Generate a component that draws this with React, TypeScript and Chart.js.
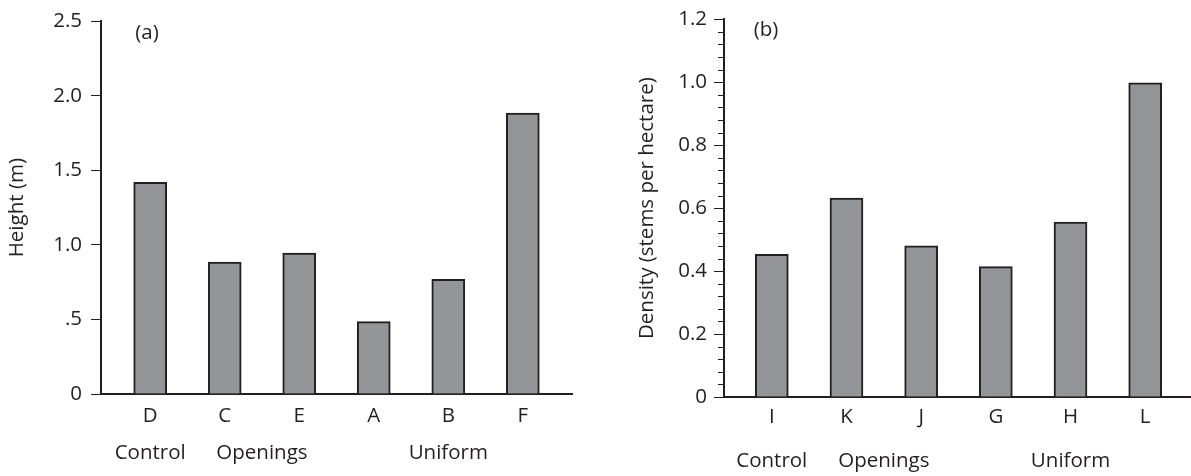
import React, { useEffect, useRef } from 'react';
import { Chart, registerables } from 'chart.js';

Chart.register(...registerables);

// ---------- data ----------
const heightCategories = ['D', 'C', 'E', 'A', 'B', 'F'];
const heightValues = [1.42, 0.885, 0.945, 0.485, 0.77, 1.885];
const heightTickValues = [0, 0.5, 1, 1.5, 2, 2.5];
const heightTickLabels = ['0', '.5', '1.0', '1.5', '2.0', '2.5'];
const heightGroups = ['Control', 'Openings', 'Uniform'];
const heightGroupMembers = [['D'], ['C', 'E'], ['A', 'B', 'F']];

const densityCategories = ['I', 'K', 'J', 'G', 'H', 'L'];
const densityValues = [0.453, 0.632, 0.48, 0.414, 0.556, 0.998];
const densityTickValues = [0, 0.2, 0.4, 0.6, 0.8, 1.0, 1.2];
const densityTickLabels = ['0', '0.2', '0.4', '0.6', '0.8', '1.0', '1.2'];
const densityMinorStep = 0.04;
const densityGroups = ['Control', 'Openings', 'Uniform'];
const densityGroupMembers = [['I'], ['K', 'J'], ['G', 'H', 'L']];

// ---------- style ----------
const INK = '#231f20';
const BAR_FILL = '#939598';
const FONT = "'Open Sans', 'Noto Sans', sans-serif";
const FONT_SIZE = 20.5;

Chart.defaults.font.family = FONT;
Chart.defaults.font.size = FONT_SIZE;
Chart.defaults.color = INK;

const extrasPlugin = {
  id: 'extras',
  afterDraw(chart: any, _args: any, opts: any) {
    const { ctx, chartArea, scales } = chart;
    const xs = scales.x;
    const ys = scales.y;
    ctx.save();
    // minor ticks
    if (opts.minorStep) {
      ctx.strokeStyle = INK;
      ctx.lineWidth = 1;
      const n = Math.round((ys.max - ys.min) / opts.minorStep);
      for (let i = 0; i <= n; i++) {
        const v = ys.min + i * opts.minorStep;
        if (opts.majors.some((m: number) => Math.abs(m - v) < 1e-6)) continue;
        const py = Math.round(ys.getPixelForValue(v)) + 0.5;
        ctx.beginPath();
        ctx.moveTo(chartArea.left - opts.minorLength, py);
        ctx.lineTo(chartArea.left, py);
        ctx.stroke();
      }
    }
    ctx.fillStyle = INK;
    ctx.font = `${FONT_SIZE}px ${FONT}`;
    ctx.textAlign = 'center';
    ctx.textBaseline = 'middle';
    // panel label
    ctx.fillText(opts.panel, chartArea.left + opts.panelDx, opts.panelY);
    // group labels
    opts.groups.forEach((g: string, gi: number) => {
      const idx = opts.members[gi].map((c: string) => opts.categories.indexOf(c));
      const px = idx.reduce((s: number, i: number) => s + xs.getPixelForValue(i), 0) / idx.length;
      ctx.fillText(g, px, opts.groupY);
    });
    ctx.restore();
  },
};

type PanelProps = {
  width: number;
  height: number;
  categories: string[];
  values: number[];
  tickValues: number[];
  tickLabels: string[];
  groups: string[];
  members: string[][];
  yTitle: string;
  yMax: number;
  xMin: number;
  xMax: number;
  chartLeft: number;
  chartRight: number;
  chartTop: number;
  chartBottom: number;
  tickPad: number;
  xTickPad: number;
  titlePad: number;
  panel: string;
  panelDx: number;
  panelY: number;
  groupY: number;
  minorStep?: number;
};

function BarPanel(p: PanelProps) {
  const ref = useRef<HTMLCanvasElement>(null);
  useEffect(() => {
    if (!ref.current) return;
    const chart = new Chart(ref.current, {
      type: 'bar',
      data: {
        datasets: [
          {
            data: p.categories.map((_, i) => ({ x: i, y: p.values[i] })),
            backgroundColor: BAR_FILL,
            borderColor: INK,
            borderWidth: 2,
            barThickness: 33,
          } as any,
        ],
      },
      options: {
        responsive: false,
        animation: false,
        events: [],
        layout: {
          padding: { left: 0, top: p.chartTop, right: p.width - p.chartRight, bottom: 0 },
        },
        plugins: {
          legend: { display: false },
          tooltip: { enabled: false },
          extras: {
            panel: p.panel,
            panelDx: p.panelDx,
            panelY: p.panelY,
            groups: p.groups,
            members: p.members,
            categories: p.categories,
            groupY: p.groupY,
            minorStep: p.minorStep,
            minorLength: 6,
            majors: p.tickValues,
          },
        } as any,
        scales: {
          x: {
            type: 'linear',
            offset: false,
            min: p.xMin,
            max: p.xMax,
            afterBuildTicks: (s: any) => {
              s.ticks = p.categories.map((_, i) => ({ value: i }));
            },
            afterFit: (s: any) => {
              s.height = p.height - p.chartBottom;
            },
            grid: { display: false, drawTicks: false, offset: false },
            border: { display: true, color: INK, width: 2 },
            ticks: {
              autoSkip: false,
              maxRotation: 0,
              padding: p.xTickPad,
              color: INK,
              callback: (v: any) => p.categories[v] ?? '',
            },
          },
          y: {
            type: 'linear',
            min: 0,
            max: p.yMax,
            afterBuildTicks: (s: any) => {
              s.ticks = p.tickValues.map((v) => ({ value: v }));
            },
            afterFit: (s: any) => {
              s.width = p.chartLeft;
            },
            grid: {
              drawOnChartArea: false,
              drawTicks: true,
              tickLength: 10,
              color: INK,
              lineWidth: 1,
            },
            border: { display: true, color: INK, width: 2 },
            ticks: {
              padding: p.tickPad,
              color: INK,
              callback: (_v: any, i: number) => p.tickLabels[i],
            },
            title: {
              display: true,
              text: p.yTitle,
              color: INK,
              padding: { top: p.titlePad, bottom: 0 },
            },
          },
        } as any,
      },
      plugins: [extrasPlugin],
    } as any);
    return () => chart.destroy();
  }, []);
  return (
    <canvas
      ref={ref}
      width={p.width}
      height={p.height}
      style={{ display: 'block', width: p.width, height: p.height }}
    />
  );
}

export default function App() {
  return (
    <div style={{ position: 'fixed', left: 0, top: 0, width: 1191, height: 476, background: '#fff' }}>
      <div style={{ position: 'absolute', left: 0, top: 0 }}>
        <BarPanel
          width={590}
          height={476}
          categories={heightCategories}
          values={heightValues}
          tickValues={heightTickValues}
          tickLabels={heightTickLabels}
          groups={heightGroups}
          members={heightGroupMembers}
          yTitle="Height (m)"
          yMax={2.5}
          xMin={-0.66}
          xMax={5.66}
          chartLeft={101}
          chartRight={572}
          chartTop={15}
          chartBottom={394}
          tickPad={9}
          xTickPad={10}
          titlePad={5}
          panel="(a)"
          panelDx={46}
          panelY={33}
          groupY={453}
        />
      </div>
      <div style={{ position: 'absolute', left: 590, top: 0 }}>
        <BarPanel
          width={601}
          height={476}
          categories={densityCategories}
          values={densityValues}
          tickValues={densityTickValues}
          tickLabels={densityTickLabels}
          groups={densityGroups}
          members={densityGroupMembers}
          yTitle="Density (stems per hectare)"
          yMax={1.2}
          xMin={-0.64}
          xMax={5.6}
          chartLeft={134}
          chartRight={600}
          chartTop={16}
          chartBottom={397}
          tickPad={7}
          xTickPad={8}
          titlePad={45}
          panel="(b)"
          panelDx={42}
          panelY={30}
          groupY={461}
          minorStep={densityMinorStep}
        />
      </div>
    </div>
  );
}
